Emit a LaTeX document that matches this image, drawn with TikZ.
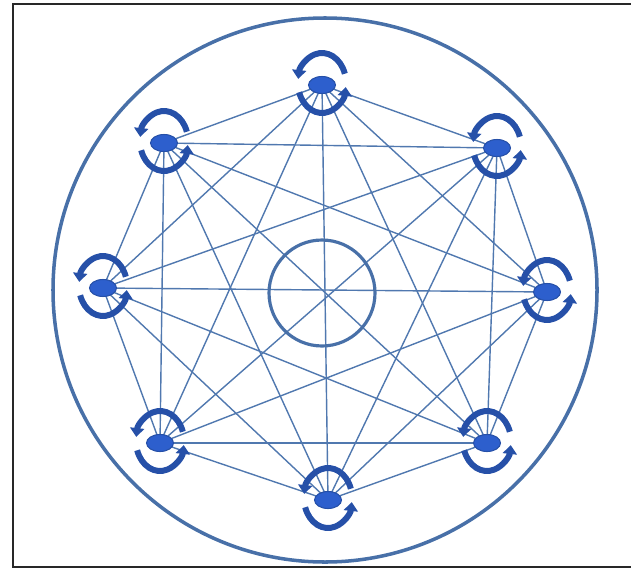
\documentclass[tikz,border=0pt]{standalone}
\usepackage{tikz}
\usetikzlibrary{shapes.geometric, arrows.meta, backgrounds}
\definecolor{FrameGray}{RGB}{40, 40, 40}
\definecolor{SteelBlue}{RGB}{72, 112, 168}
\definecolor{LineBlue}{RGB}{80, 120, 175}
\definecolor{RingBlue}{RGB}{38, 80, 168}
\definecolor{DotBlue}{RGB}{45, 95, 205}

\tikzset{
  dot/.style={ellipse, fill=DotBlue, draw=RingBlue, line width=0.6pt,
    minimum width=0.54cm, minimum height=0.34cm, inner sep=0pt},
  ring/.style={RingBlue, line width=3.4pt, -{Triangle[length=5pt, width=8pt]}},
  edge/.style={LineBlue, line width=0.8pt},
}

\begin{document}
\begin{tikzpicture}[x=0.02cm, y=0.02cm]
    \useasboundingbox (0,0) rectangle (631,569);

    % Frame
    \draw[FrameGray, line width=1.2pt] (640,565) -- (13,565) -- (13,2) -- (640,2);

    % Outer and inner circles
    \draw[SteelBlue, line width=2pt] (325,279) circle[radius=272];
    \node[circle, draw=SteelBlue, line width=1.8pt, minimum size=2.12cm] (hub) at (322,276) {};

    % Agents
    \node[dot] (t)  at (322,484) {};
    \node[dot] (tr) at (497,421) {};
    \node[dot] (r)  at (547,277) {};
    \node[dot] (br) at (487,126) {};
    \node[dot] (b)  at (328,69) {};
    \node[dot] (bl) at (160,126) {};
    \node[dot] (l)  at (103,281) {};
    \node[dot] (tl) at (164,426) {};

    % Self loops
    \foreach \n in {t,tr,r,br,b,bl,l,tl} {
      \draw[ring] (\n.center) ++(0,2) ++(18:24 and 30) arc[start angle=18, end angle=172, x radius=24, y radius=30];
      \draw[ring] (\n.center) ++(0,2) ++(198:24 and 30) arc[start angle=198, end angle=352, x radius=24, y radius=30];
    }

    % Links between all agents
    \begin{pgfonlayer}{background}
      \foreach \a [count=\i] in {t,tr,r,br,b,bl,l,tl} {
        \foreach \b [count=\j] in {t,tr,r,br,b,bl,l,tl} {
          \ifnum\j>\i
            \draw[edge] (\a.center) -- (\b.center);
          \fi
        }
      }
    \end{pgfonlayer}
  \end{tikzpicture}
\end{document}
